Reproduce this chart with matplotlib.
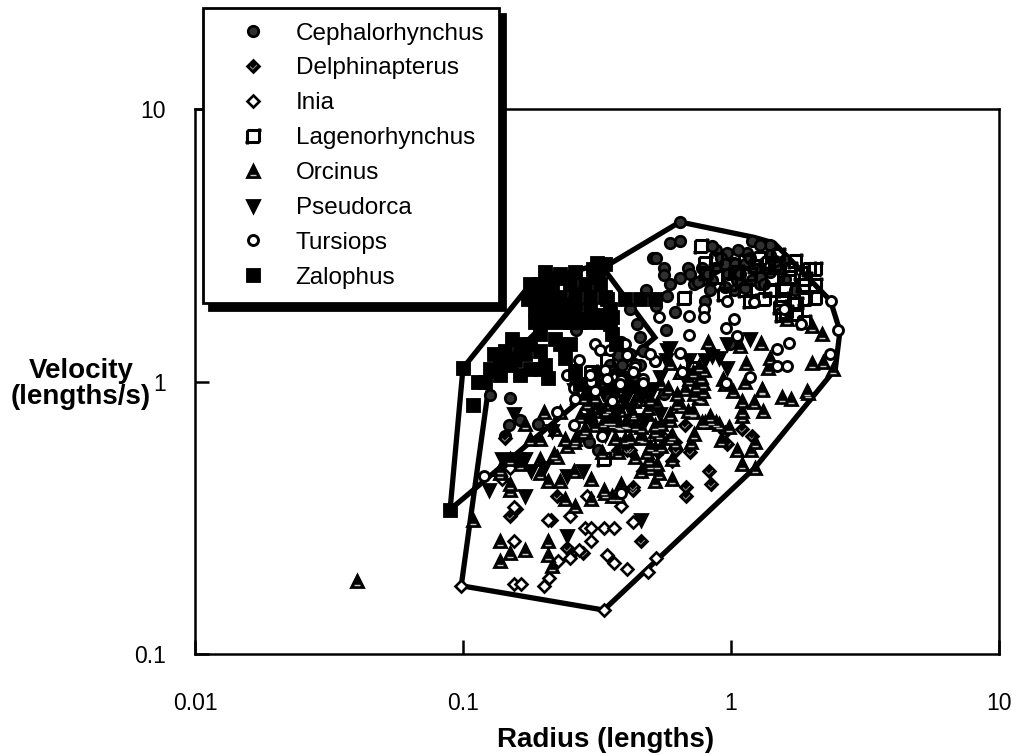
import matplotlib
matplotlib.use("Agg")
import matplotlib.pyplot as plt
from matplotlib.path import Path
from matplotlib.ticker import FixedLocator, NullLocator, FixedFormatter

ceph_r = [.645, .592, .645, .51, .525, .56, .56, .645, .592, .69, .73, .78, .78, .85, .80, .575, .525, .62, .48, .42, .445, .57, .458, .39,
          .47, 1.05, .99, .88, .85, .97, 1.20, 1.40, 1.15, 1.03, 1.18, 1.28, 1.52, .99, 1.05, 1.20, 1.28, .92, 1.03, .265, .265, .47,
          .148, .143, .126, .190, .273, .295, .320, .30, .35, .33, .37, .43, .49, .56, .15, .163, .38, .44,
          .95, 1.035, 1.13, 1.23, .975, 1.08, 1.28, 1.40, 1.46, .95, 1.13, 1.33, 1.59, 1.73, 1.40, 1.59, 1.18, 1.06, 1.28, .87, .835, .703, .75, .82,
          .386, .42, .354, .392, .325, .298, .458, .262]
ceph_v = [3.85, 3.22, 3.27, 2.85, 2.85, 2.62, 2.45, 2.40, 2.28, 2.62, 2.28, 2.62, 2.35, 2.35, 1.97, 2.06, 1.89, 1.80, 2.17, 1.84, 1.62, 1.55,
          1.46, 1.40, 1.31, 1.46, 1.37, 3.05, 3.13, 2.95, 3.28, 3.17, 2.95, 2.72, 2.67, 2.62, 2.60, 2.62, 2.35, 2.35, 2.28, 2.83, 2.17, 1.88, 1.55, 1.29,
          .69, .63, .89, .70, .63, .60, .56, .80, .87, .95, .75, .72, .85, .90, .87, .72, 1.25, 1.05,
          2.69, 2.69, 2.69, 2.58, 2.47, 2.47, 2.41, 2.53, 2.76, 2.23, 2.21, 2.27, 2.37, 2.17, 2.92, 2.80, 2.85, 3.05, 3.18, 2.62, 2.17, 2.47, 2.31, 2.47,
          1.37, 1.26, 1.15, 1.15, 1.06, .975, 1.15, .975]
delph_r = [.675, .547, .555, .62, .625, .705, .60, .535, .47, .43, .83, .68, .845, .68, .95, 1.20, 1.10, .97, .41, .38, .143,
           .150, .157, .150, .213, .245, .255, .28, .46, .385, .42, .43, .47, .225]
delph_v = [.69, .69, .63, .60, .56, .55, .51, .55, .47, .40, .47, .41, .42, .38, .65, .63, .67, .59, .56, .56, .62,
           .49, .34, .32, .31, .245, .235, .235, .26, .59, .56, .41, .47, .38]
inia_r = [.098, .155, .155, .207, .25, .285, .30, .335, .365, .43, .30, .27, .25, .227, .345, .365, .41, .49, .525, .155, .165,
          .20, .21, .335, .39, .29, .15, .14]
inia_v = [.178, .26, .345, .31, .32, .29, .29, .29, .29, .305, .26, .24, .225, .22, .23, .215, .205, .20, .225, .18, .18,
          .178, .19, .145, .35, .38, .48, .44]
lag_r = [.77, .80, .88, .94, .67, 1.18, 1.33, 1.55, 1.75, 2.05, 2.05, 1.95, 1.50, 1.37, 1.65, 1.85, 1.23, 1.42, 1.60, 1.88, 1.75, 1.52,
         1.82, .81, .88, 1.05, .345, .30, .335, 1.55, .72,
         1.035, 1.13, 1.28, 1.46, 1.66, 1.89, 1.73, 1.59, 1.40, 1.89, 2.06, 1.13, .99, 1.18]
lag_v = [3.15, 2.72, 2.82, 2.10, 2.02, 1.97, 2.00, 2.00, 1.93, 2.26, 2.02, 2.58, 2.90, 2.72, 2.42, 2.26, 2.65, 2.37, 1.80, 1.66, 1.77, 1.88,
         2.50, 2.50, 2.42, 2.52, 1.20, 1.08, .52, 1.75, 1.12,
         2.53, 2.76, 2.85, 2.69, 2.58, 2.37, 2.76, 2.17, 2.17, 2.0, 2.58, 2.17, 2.27, 2.47]
orc_r = [.0402, 1.23, .74, .65, .72, .76, .59, .77, .84, .90, .835, .80, .54, .59, .52, .69, 1.02, 1.10, 1.22, 1.30, 1.32, 1.68, 1.93,
         1.10, .88, .98, .73, .62, .55, .92, 1.05, 1.19, 1.23, .71, .60, .50, .53, .60, .52, .46, 1.10, .93,
         .76, .79, 1.29, 1.40, 1.37, 1.14, 1.92, 2.0, 2.18, 2.01, 2.20, 2.40, 1.62, 1.08, .82, .95, 1.10, .73, .645, .59, .77, 1.30, 1.13, 1.55,
         .137, .150, .137, .170, .207, .215, .207, .109, .150, .137, .150, .170, .201, .230, .207, .194, .230, .24, .262, .30, .339, .360, .39, .38,
         .30, .335, .26, .38, .44, .495, .54, .485, .225, .245, .194, .218, .35, .28, .31, .36, .49, .43, .41, .345, .32, .38, .47, .55, .50, .63,
         .70, .435, .36, .42, .46, .28, .26, .33, .37, .52,
         .581, .630, .786, .721, .779, .486, .333, .458, .602, .499, .396, .354, .319, .290, .420, .458, .530, .386, .427, .273, .266, .360, .402, .721, .786, .675, .645, .543,
         .178, .194, .220, .240, .262, .285, .311, .163, .137, .150, .386, .44, .52, .592, .339, .298, .499, .402]
orc_v = [.186, .483, .96, .81, .78, .88, .76, .87, .72, .70, .75, .71, .64, .62, .57, .78, .92, .78, .84, .93, .78, .86, .91,
         .75, .71, .68, .64, .60, .58, .61, .56, .56, .60, .60, .52, .48, .50, .44, .43, .47, .50, 1.02,
         1.14, 1.10, 1.39, 1.22, 1.12, 1.17, .92, 1.60, 1.50, 1.17, 1.18, 1.11, 1.69, 1.35, 1.40, .98, .85, .90, 1.08, 1.17, 1.04, .94, 1.00, .88,
         .26, .235, .22, .24, .26, .21, .23, .31, .40, .46, .42, .70, .77, .77, .43, .46, .43, .37, .35, .37, .39, .38, .42, .38,
         .44, .40, .47, .55, .53, .52, .46, .55, .53, .58, .52, .54, .80, .88, .88, .87, .80, .76, .70, .72, .78, .70, .62, .70, .50, .90,
         1.02, .85, .72, .62, .68, .65, .60, .55, .62, .66,
         .95, .837, .92, .775, .713, .757, .713, .628, .639, .578, .859, .837, .81, .837, .96, .859, .837, .789, .775, .744, .88, .707, .707, 1.08, .99, .935, 1.08, .99,
         .613, .613, .667, .613, .613, .667, .695, .496, .476, .518, .695, .695, .695, .725, .789, .757, .859, .613]
pseudo_r = [1.18, .97, .59, .57, .85, .80, .97, .70, .155, .125, .17, .16, .17, .245, .46, .215, .20, .245, .28,
            .18, .14, .39, .355, .32, .26, .40, .46, .31, .66, .90,
            .409, .375, .333, .298, .445, .486, .577, .543, .512, .409, .365,
            .325, .371, .420, .477, .543, .298, .339]
pseudo_v = [1.43, 1.37, 1.33, 1.20, 1.24, 1.20, 1.12, 1.20, .76, .40, .52, .52, .38, .27, .31, .66, .48, .45, .47,
            .47, .52, 1.03, .94, 1.07, .93, .85, .88, .95, 1.06, 1.22,
            1.03, .96, .911, .911, .935, .911, 1.31, 1.04, .935, .881, .881,
            .789, .757, .789, .725, .757, .725, .639]
turs_r = [.70, .70, .79, .79, .97, 1.03, .955, 1.05, 1.48, 1.65, 1.48, 1.62, 1.18, 2.34, 2.50, 2.36, 1.57, 1.82, 1.22, .54, .52, .44, .645, .47,
          .655, .96, .31, .27, .245, .34, .30, .345, .37, .41, .52, .44, .47, .26, .31, .39, .43, .26, .225, .12, .39, .33, .36,
          .325, .402, .298, .499, .354, .386, .262]
turs_v = [1.74, 1.48, 1.84, 1.72, 1.98, 1.70, 1.57, 1.47, 1.32, 1.39, 1.14, 1.14, 1.04, 1.26, 1.55, 1.98, 1.84, 1.62, 1.95, 1.72, 1.19, 1.16, 1.27, 1.02,
          1.08, .99, 1.37, 1.20, 1.06, 1.10, 1.00, 1.02, 1.39, 1.25, 1.19, 1.13, .99, .95, .92, 1.01, 1.08, .69, .77, .45, .39, .63, .85,
          1.31, 1.37, 1.06, 1.26, 1.31, .975, .859]
zal_r = [.0895, .100, .109, .339, .305, .262, .202, .230, .194, .215, .251, .285, .325, .186, .207, .230, .262, .298, .339, .186, .207, .230,
         .255, .298, .354, .186, .207, .234, .325, .360, .402, .458, .520, .354, .360, .371, .194, .163, .156, .178, .170, .194, .230, .251, .240,
         .202, .178, .163, .150, .131, .126, .137, .121, .114, .207, .194, .262, .273, .137, .143, .153, .220, .345, .178, .175, .315, .262, .285,
         .29, .27, .25, .315, .18, .32, .24, .21]
zal_v = [.339, 1.12, .823, 2.71, 2.58, 2.53, 2.53, 2.47, 2.27, 2.27, 2.27, 2.27, 2.27, 2.05, 2.05, 2.05, 2.05, 2.05, 2.05, 1.84, 1.84, 1.84,
         1.84, 1.84, 1.84, 1.66, 1.66, 1.66, 1.66, 1.72, 2.00, 2.00, 2.00, 1.62, 1.49, 1.37, 1.49, 1.37, 1.20, 1.37, 1.26, 1.29, 1.37, 1.37, 1.22,
         1.15, 1.11, 1.06, 1.15, 1.26, 1.11, 1.06, 1.00, 1.00, 1.03, 1.11, 1.09, .975, 1.18, 1.29, 1.43, 1.43, 2.00, 2.27, 2.00, 2.73, 1.84, 1.69,
         1.66, 1.66, 1.66, 1.75, 2.15, 2.42, 2.4, 2.4]

hull_outer_r = [.0985, .335, 1.23, 2.45, 2.55, 2.35, 1.45, 1.22, .645, .32, .126, .0985]
hull_outer_v = [.178, .145, .483, 1.11, 1.53, 1.98, 3.22, 3.38, 3.85, 2.55, 1.03, .178]
hull_zal_r = [.0895, .100, .180, .265, .325, .52, .0895]
hull_zal_v = [.339, 1.12, 2.30, 2.55, 2.70, 1.45, .339]

species = ["Cephalorhynchus", "Delphinapterus", "Inia", "Lagenorhynchus", "Orcinus", "Pseudorca", "Tursiops", "Zalophus"]
x_ticks = [0.01, 0.1, 1, 10]
y_ticks = [0.1, 1, 10]
x_labels = ["0.01", "0.1", "1", "10"]
y_labels = ["0.1", "1", "10"]

FONT = "Liberation Sans"
TICK_FS = 16.5
LEGEND_FS = 17.5
LABEL_FS = 20
GRAY = "#c8c8c8"

# open square whose sides run past the corners
LAG_MARKER = Path(
    [(-1.35, -1), (1, -1), (1, -1), (1, 1.35), (1.35, 1), (-1, 1), (-1, 1), (-1, -1.35)],
    [Path.MOVETO, Path.LINETO, Path.MOVETO, Path.LINETO, Path.MOVETO, Path.LINETO, Path.MOVETO, Path.LINETO],
)
BAR_MARKER = Path([(-0.5, -0.6), (0.5, -0.6)], [Path.MOVETO, Path.LINETO])
CHECK_MARKER = Path([(-0.45, 0.0), (-0.1, -0.35), (0.45, 0.2)], [Path.MOVETO, Path.LINETO, Path.LINETO])


def draw_species(ax, r, v, layers):
    handles = []
    for style in layers:
        line, = ax.plot(r, v, linestyle="none", clip_on=False, **style)
        handles.append(line)
    return tuple(handles) if len(handles) > 1 else handles[0]


plt.rcParams["font.family"] = [FONT, "DejaVu Sans"]
fig = plt.figure(figsize=(10.16, 7.55), dpi=100)
ax = fig.add_axes([195 / 1016, 1 - 654 / 755, 804 / 1016, 545 / 755])
ax.set_xscale("log")
ax.set_yscale("log")
ax.set_xlim(0.01, 10)
ax.set_ylim(0.1, 10)

ax.plot(hull_outer_r, hull_outer_v, color="k", lw=3.8, solid_joinstyle="miter", zorder=2)
ax.plot(hull_zal_r, hull_zal_v, color="k", lw=3.8, solid_joinstyle="miter", zorder=2)

handles = [
    draw_species(ax, ceph_r, ceph_v, [dict(marker="o", ms=7.6, mew=1.9, mfc="#303030", mec="k")]),
    draw_species(ax, delph_r, delph_v, [
        dict(marker="D", ms=5.8, mew=1.9, mfc="k", mec="k"),
        dict(marker=CHECK_MARKER, ms=5, mew=0.7, mfc="none", mec="#909090"),
    ]),
    draw_species(ax, inia_r, inia_v, [dict(marker="D", ms=5.8, mew=1.9, mfc="w", mec="k")]),
    draw_species(ax, lag_r, lag_v, [dict(marker=LAG_MARKER, ms=11.8, mew=2.2, mfc="none", mec="k")]),
    draw_species(ax, orc_r, orc_v, [
        dict(marker="^", ms=8.2, mew=2.0, mfc="k", mec="k"),
        dict(marker=BAR_MARKER, ms=5.8, mew=1.0, mfc="none", mec=GRAY),
    ]),
    draw_species(ax, pseudo_r, pseudo_v, [dict(marker="v", ms=8.0, mew=2.0, mfc="k", mec="k")]),
    draw_species(ax, turs_r, turs_v, [dict(marker="o", ms=7.2, mew=2.1, mfc="w", mec="k")]),
    draw_species(ax, zal_r, zal_v, [dict(marker="s", ms=9.8, mew=0.6, mfc="k", mec="k")]),
]

for side in ax.spines.values():
    side.set_linewidth(1.8)
ax.xaxis.set_major_locator(FixedLocator(x_ticks))
ax.xaxis.set_major_formatter(FixedFormatter(x_labels))
ax.xaxis.set_minor_locator(NullLocator())
ax.yaxis.set_major_locator(FixedLocator(y_ticks))
ax.yaxis.set_major_formatter(FixedFormatter(y_labels))
ax.yaxis.set_minor_locator(NullLocator())
ax.tick_params(axis="x", direction="in", length=10, width=1.8, pad=27, labelsize=TICK_FS)
ax.tick_params(axis="y", direction="in", length=10, width=1.8, pad=21, labelsize=TICK_FS)

fig.text(606 / 1016, 1 - 740 / 755, "Radius (lengths)", ha="center", va="center", fontsize=LABEL_FS, fontweight="bold")
fig.text(81 / 1016, 1 - 384 / 755, "Velocity\n(lengths/s)", ha="center", va="center", fontsize=LABEL_FS, fontweight="bold", linespacing=0.95)

leg = ax.legend(
    handles, species,
    loc="upper left", bbox_to_anchor=(203 / 1016, 1 - 8 / 755), bbox_transform=fig.transFigure,
    fontsize=LEGEND_FS, numpoints=1, frameon=True, fancybox=False, framealpha=1, edgecolor="k",
    borderpad=0.6, handlelength=2.93, handletextpad=0.28, labelspacing=0.53, borderaxespad=0,
    shadow={"ox": 4.5, "oy": -4.5, "facecolor": "k", "edgecolor": "k", "alpha": 1},
)
leg.get_frame().set_linewidth(2.0)
leg.set_zorder(10)

fig.savefig("out.png", dpi=100)
